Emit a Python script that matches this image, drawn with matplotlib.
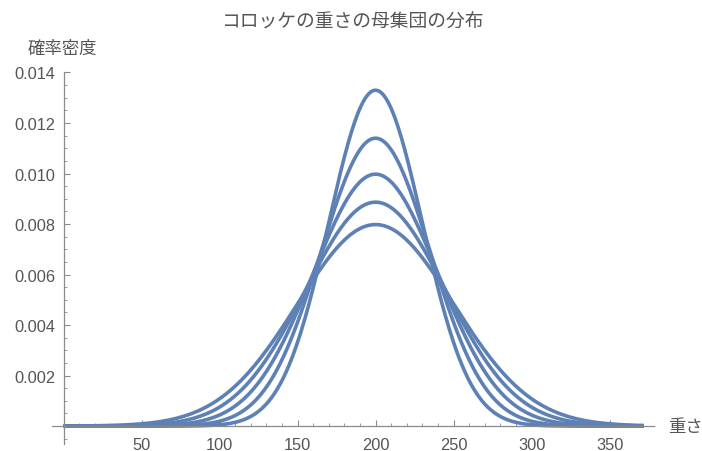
import numpy as np
import matplotlib
matplotlib.use("Agg")
import matplotlib.pyplot as plt
from matplotlib.ticker import MultipleLocator

plt.rcParams['font.family'] = ['Liberation Sans', 'Noto Sans CJK JP', 'DejaVu Sans']

# population: mean 200 g, several standard deviations
mu = 200
sigmas = [30, 35, 40, 45, 50]
x_start, x_end = 0, 372

title = "コロッケの重さの母集団の分布"
ylabel = "確率密度"
xlabel = "重さ"
xticks = [50, 100, 150, 200, 250, 300, 350]
yticks = [0.002, 0.004, 0.006, 0.008, 0.010, 0.012, 0.014]

gray = "#555555"
line_col = "#5E81B5"

fig = plt.figure(figsize=(7.02, 4.52), dpi=100)
ax = fig.add_axes([0.0741, 0.0155, 0.8575, 0.8219])

x = np.linspace(x_start, x_end, 600)
for s in sigmas:
    y = np.exp(-(x - mu) ** 2 / (2 * s ** 2)) / (s * np.sqrt(2 * np.pi))
    ax.plot(x, y, color=line_col, lw=2.6, solid_capstyle='butt')

ax.set_xlim(-7.4, 378.5)
ax.set_ylim(-0.00071, 0.014)

# axes through the origin, Mathematica style
for side in ['top', 'right']:
    ax.spines[side].set_visible(False)
ax.spines['left'].set_position(('data', 0))
ax.spines['bottom'].set_position(('data', 0))
for side in ['left', 'bottom']:
    ax.spines[side].set_color("#8a8a8a")
    ax.spines[side].set_linewidth(0.9)

ax.set_xticks(xticks)
ax.set_yticks(yticks)
ax.set_yticklabels([f"{v:.3f}" for v in yticks])
ax.xaxis.set_minor_locator(MultipleLocator(10))
ax.yaxis.set_minor_locator(MultipleLocator(0.0005))
ax.tick_params(which='major', direction='in', length=4, width=0.8, color="#8a8a8a",
               labelsize=11.8, labelcolor=gray, pad=6)
ax.tick_params(which='minor', direction='in', length=2.3, width=0.6, color="#8a8a8a")
ax.tick_params(axis='x', which='major', pad=8)

fig.text(352 / 702, 1 - 23 / 452, title, ha='center', va='center',
         fontsize=13.5, color=gray)
fig.text(62 / 702, 1 - 49 / 452, ylabel, ha='center', va='center',
         fontsize=12.5, color=gray)
fig.text(668 / 702, 1 - 427 / 452, xlabel, ha='left', va='center',
         fontsize=12.5, color=gray)

fig.savefig("out.png", dpi=100)
